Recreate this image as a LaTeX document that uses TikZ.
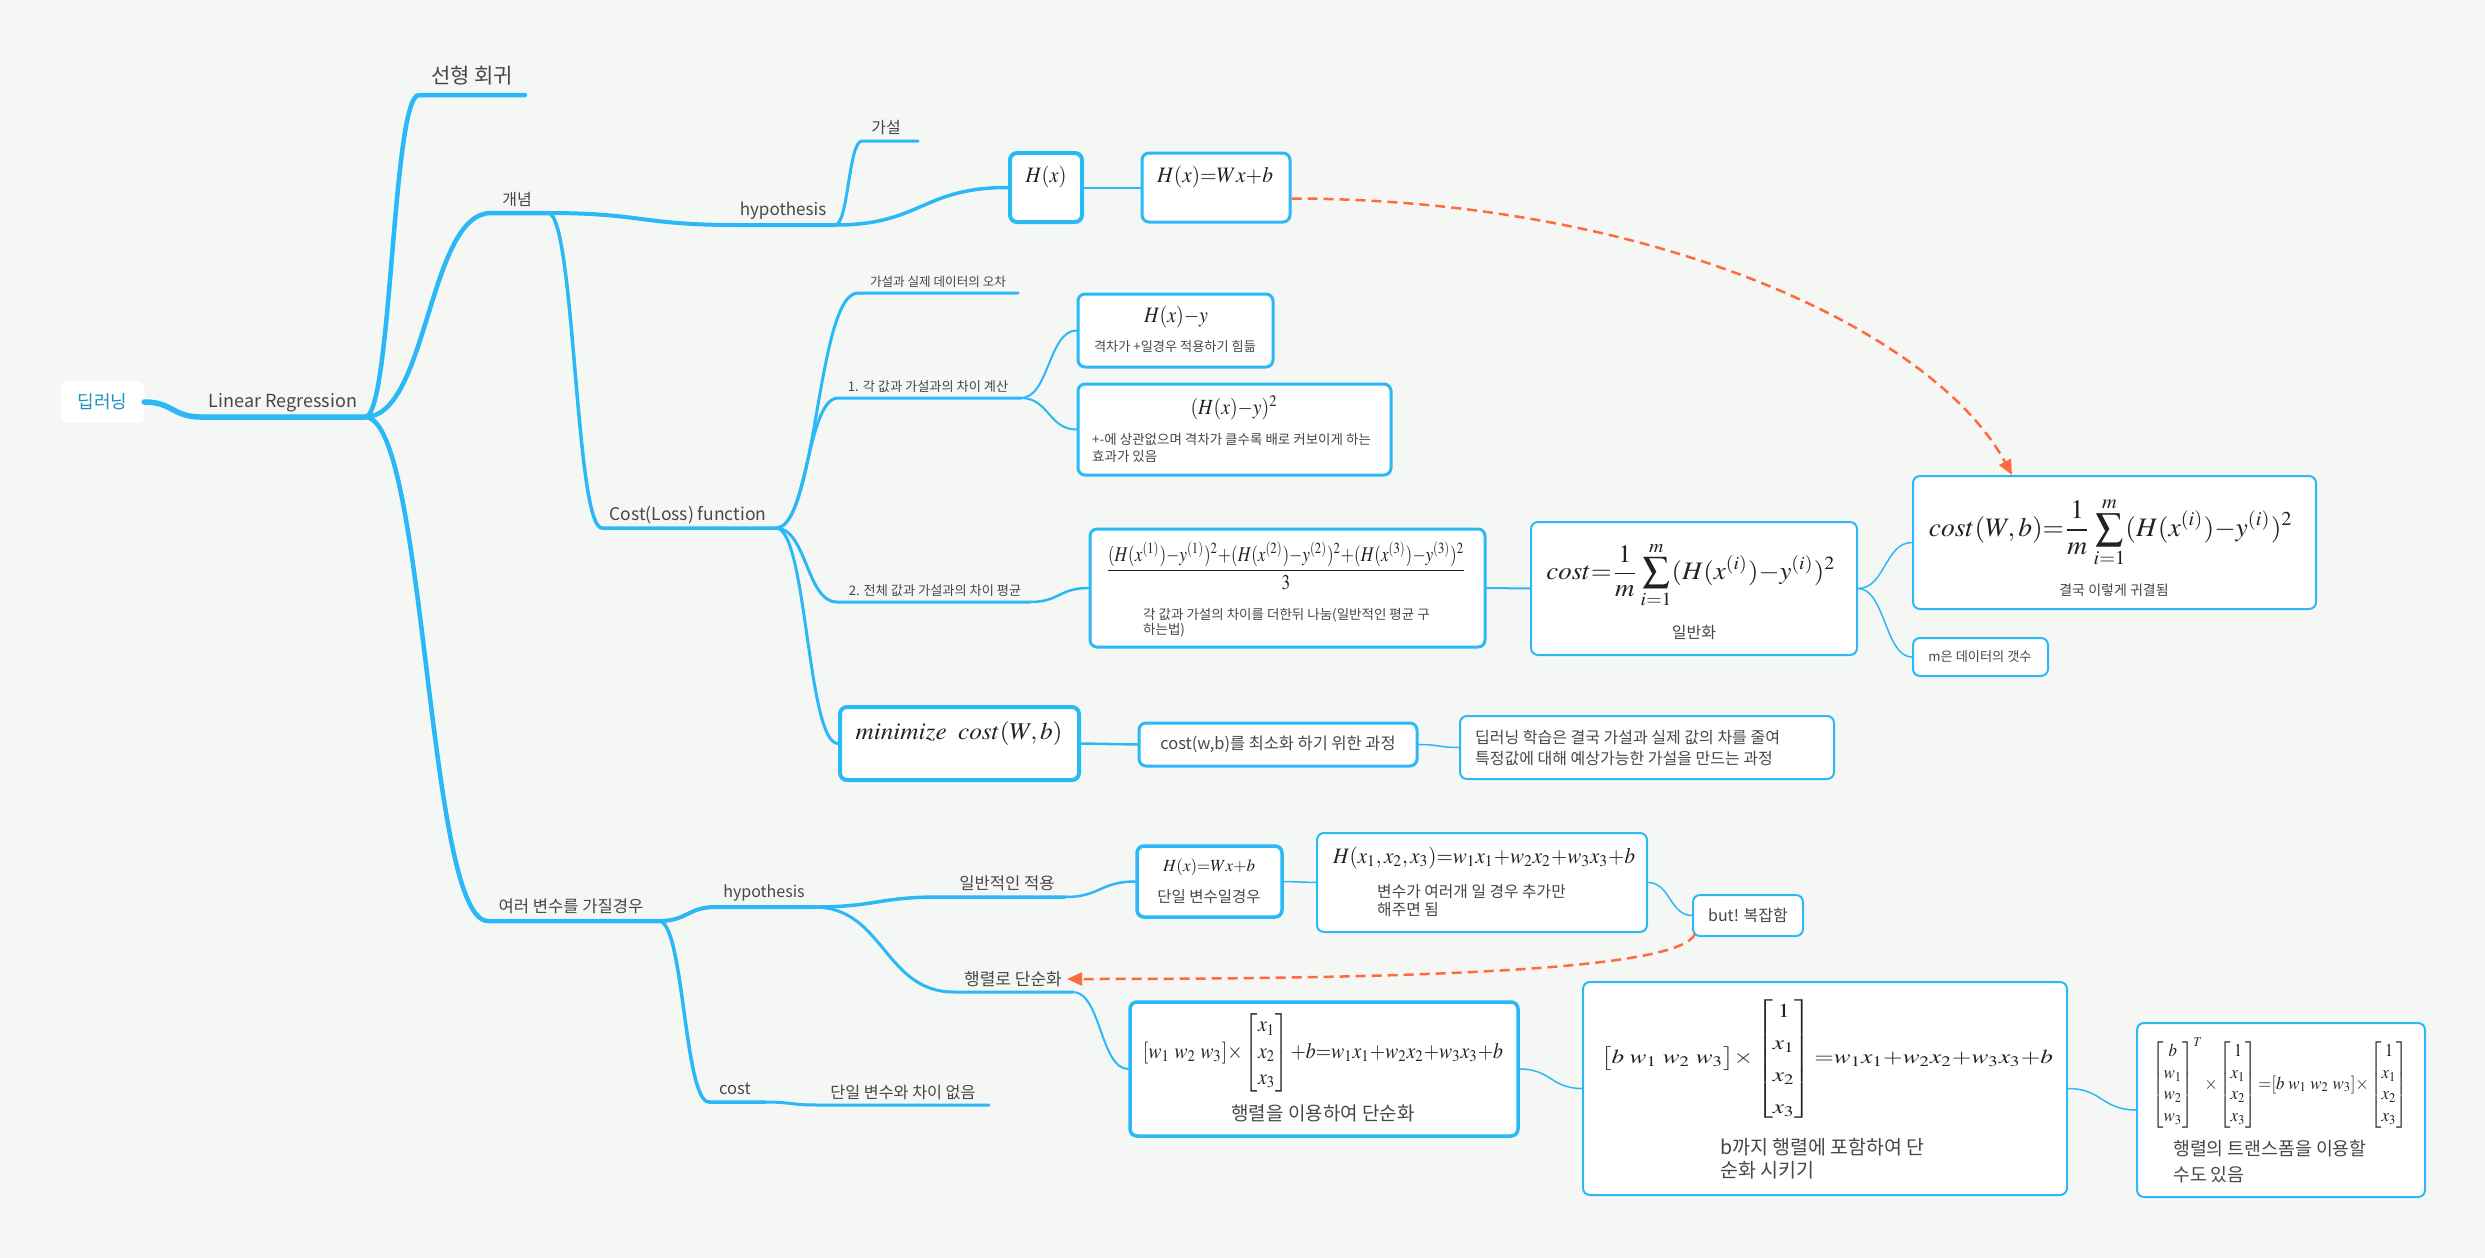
\documentclass[tikz,border=0pt]{standalone}
\usepackage{amsmath}
\usepackage{mathptmx}
\usepackage[no-math]{fontspec}
\setmainfont{Noto Sans CJK KR}
\usepackage{graphicx}
\usetikzlibrary{calc,arrows.meta}
\definecolor{bgc}{HTML}{F5F7F4}
\definecolor{lb}{HTML}{2BB8F6}
\definecolor{orn}{HTML}{FF6B3D}
\definecolor{tc}{HTML}{474747}
\definecolor{rootc}{HTML}{1E90C0}
\definecolor{mc}{HTML}{222222}
\tikzset{
  ln/.style={draw=lb, line width=#1pt, line cap=round},
  cv/.style={to path={let \p1=(\tikztostart), \p2=(\tikztotarget) in .. controls ({0.5*\x1+0.5*\x2},\y1) and ({0.5*\x1+0.5*\x2},\y2) .. (\tikztotarget) \tikztonodes}},
  lbl/.style={text=tc, inner sep=0pt, font=\fontsize{#1}{#1}\selectfont},
  cap/.style n args={2}{text=tc, inner sep=0pt, align=left, anchor=west, font=\fontsize{#1}{#2}\selectfont},
  bx/.style={draw=lb, fill=white, rounded corners=7pt, line width=#1pt, inner sep=0pt},
  mth/.style={inner sep=0pt, text=mc},
  oa/.style={draw=orn, line width=2.5pt, dash pattern=on 10pt off 6pt, -{Triangle[length=15pt,width=13pt]}},
}
\begin{document}
\begin{tikzpicture}[x=1pt,y=-1pt,line join=round]
\fill[bgc] (0,0) rectangle (2485,1258);
\useasboundingbox (0,0) rectangle (2485,1258);

% ---------- root and topic labels ----------
\node[fill=white, rounded corners=6pt, minimum width=83pt, minimum height=42pt, inner sep=0pt, text=rootc, font=\fontsize{18}{18}\selectfont] (root) at (102.5,402) {딥러닝};

\coordinate (lr-l) at (201,417); \coordinate (lr-r) at (365,417);
\node[lbl=18] (lr) at (283,403) {Linear Regression};
\coordinate (sh-l) at (419,95); \coordinate (sh-r) at (525,95);
\node[lbl=21] (sh) at (472,76) {선형 회귀};
\coordinate (gn-l) at (491,213); \coordinate (gn-r) at (548,213);
\node[lbl=16] (gn) at (517,200) {개념};
\coordinate (hy1-l) at (735,225); \coordinate (hy1-r) at (835,225);
\node[lbl=17] (hy1) at (783,211) {hypothesis};
\coordinate (gs-l) at (862,141); \coordinate (gs-r) at (918,141);
\node[lbl=16] (gs) at (886,127) {가설};
\coordinate (cl-l) at (602,528); \coordinate (cl-r) at (776,528);
\node[lbl=17.5] (cl) at (688,515) {Cost(Loss) function};
\coordinate (c0-l) at (858,293); \coordinate (c0-r) at (1018,293);
\node[lbl=12.6] (c0) at (938,282) {가설과 실제 데이터의 오차};
\coordinate (c1-l) at (838,398); \coordinate (c1-r) at (1021,398);
\node[lbl=13.2] (c1) at (928,387) {1. 각 값과 가설과의 차이 계산};
\coordinate (c2-l) at (837,602); \coordinate (c2-r) at (1030,602);
\node[lbl=13.2] (c2) at (935,591) {2. 전체 값과 가설과의 차이 평균};
\coordinate (yr-l) at (488,921); \coordinate (yr-r) at (659,921);
\node[lbl=16.6] (yr) at (571,906) {여러 변수를 가질경우};
\coordinate (hy2-l) at (716,907); \coordinate (hy2-r) at (814,907);
\node[lbl=16] (hy2) at (764,893) {hypothesis};
\coordinate (cs-l) at (709,1102); \coordinate (cs-r) at (765,1102);
\node[lbl=16.5] (cs) at (735,1089) {cost};
\coordinate (dn-l) at (817,1105); \coordinate (dn-r) at (989,1105);
\node[lbl=16.2] (dn) at (903,1092) {단일 변수와 차이 없음};
\coordinate (ib-l) at (940,897); \coordinate (ib-r) at (1065,897);
\node[lbl=16.6] (ib) at (1007,883) {일반적인 적용};
\coordinate (hr-l) at (954,992); \coordinate (hr-r) at (1073,992);
\node[lbl=17] (hr) at (1013,979) {행렬로 단순화};

% ---------- boxes ----------
\node[bx=4, minimum width=72pt, minimum height=69pt] (Hx) at (1046,187.5) {};
\node[mth] (Hx-m) at (1046,177) {\resizebox*{41pt}{22pt}{$H(x)$}};
\node[bx=3, minimum width=148pt, minimum height=69pt] (HxWxb) at (1216,187.5) {};
\node[mth] (HxWxb-m) at (1215,177) {\resizebox*{116pt}{22pt}{$H(x){=}Wx{+}b$}};

\node[bx=3, minimum width=195pt, minimum height=73pt] (Hxy) at (1175.5,330.5) {};
\node[mth] (Hxy-m) at (1176,317) {\resizebox*{64pt}{22pt}{$H(x){-}y$}};
\node[lbl=13.2] (Hxy-t) at (1175,347) {격차가 +일경우 적용하기 힘듦};

\node[bx=3, minimum width=313pt, minimum height=91pt] (Hxy2) at (1234.5,429.5) {};
\node[mth] (Hxy2-m) at (1234,408) {\resizebox*{87pt}{24pt}{$(H(x){-}y)^2$}};
\node[cap={13.5}{17}] (Hxy2-t) at (1092,447.5) {+-에 상관없으며 격차가 클수록 배로 커보이게 하는\\효과가 있음};

\node[bx=3, minimum width=395pt, minimum height=118pt] (frac) at (1287.5,588) {};
\node[mth] (frac-m) at (1286,566) {\resizebox*{360pt}{48pt}{$\dfrac{(H(x^{(1)}){-}y^{(1)})^2{+}(H(x^{(2)}){-}y^{(2)})^2{+}(H(x^{(3)}){-}y^{(3)})^2}{3}$}};
\node[cap={13.5}{15}] (frac-t) at (1143,622.5) {각 값과 가설의 차이를 더한뒤 나눔(일반적인 평균 구\\하는법)};

\node[bx=2, minimum width=326pt, minimum height=133pt] (costgen) at (1694,588.5) {};
\node[mth] (costgen-m) at (1691,575) {\resizebox*{289pt}{66pt}{$\displaystyle cost{=}\frac{1}{m}\sum_{i=1}^{m}(H(x^{(i)}){-}y^{(i)})^2$}};
\node[lbl=16] (costgen-t) at (1694,633) {일반화};

\node[bx=2, minimum width=403pt, minimum height=133pt] (final) at (2114.5,542.5) {};
\node[mth] (final-m) at (2111,532) {\resizebox*{364pt}{70pt}{$\displaystyle cost(W,b){=}\frac{1}{m}\sum_{i=1}^{m}(H(x^{(i)}){-}y^{(i)})^2$}};
\node[lbl=14] (final-t) at (2114,590) {결국 이렇게 귀결됨};

\node[bx=2, minimum width=135pt, minimum height=38pt] (mbox) at (1980.5,657) {};
\node[lbl=13.2] (mbox-t) at (1980,657) {m은 데이터의 갯수};

\node[bx=4, minimum width=239pt, minimum height=73pt] (mini) at (959.5,743.5) {};
\node[mth] (mini-m) at (959,733) {\resizebox*{207pt}{24pt}{$minimize\ \ cost(W,b)$}};

\node[bx=3, minimum width=278pt, minimum height=43pt] (costwb) at (1278,744.5) {};
\node[lbl=16.4] (costwb-t) at (1278,744) {cost(w,b)를 최소화 하기 위한 과정};

\node[bx=2, minimum width=374pt, minimum height=63pt] (dl) at (1647,747.5) {};
\node[cap={16}{21}] (dl-t) at (1475,747.5) {딥러닝 학습은 결국 가설과 실제 값의 차를 줄여\\특정값에 대해 예상가능한 가설을 만드는 과정};

\node[bx=3.5, minimum width=145pt, minimum height=71pt] (Hs) at (1209.5,881.5) {};
\node[mth] (Hs-m) at (1209,867) {\resizebox*{92pt}{17pt}{$H(x){=}Wx{+}b$}};
\node[lbl=15.5] (Hs-t) at (1209,897) {단일 변수일경우};

\node[bx=2, minimum width=330pt, minimum height=99pt] (H3) at (1482,882.5) {};
\node[mth] (H3-m) at (1484,858) {\resizebox*{302pt}{22pt}{$H(x_1,x_2,x_3){=}w_1x_1{+}w_2x_2{+}w_3x_3{+}b$}};
\node[cap={15.8}{18}] (H3-t) at (1377,901) {변수가 여러개 일 경우 추가만\\해주면 됨};

\node[bx=2, minimum width=110pt, minimum height=41pt] (but) at (1748,915.5) {};
\node[lbl=16] (but-t) at (1748,915) {but! 복잡함};

\node[bx=3.5, minimum width=388pt, minimum height=134pt] (m1) at (1324,1069) {};
\node[mth] (m1-m) at (1323,1053) {\resizebox*{360pt}{79pt}{$[w_1\;w_2\;w_3]{\times}\begin{bmatrix}x_1\\x_2\\x_3\end{bmatrix}{+}b{=}w_1x_1{+}w_2x_2{+}w_3x_3{+}b$}};
\node[lbl=19] (m1-t) at (1323,1113) {행렬을 이용하여 단순화};

\node[bx=2, minimum width=484pt, minimum height=213pt] (m2) at (1825,1088.5) {};
\node[mth] (m2-m) at (1827,1059) {\resizebox*{452pt}{128pt}{\renewcommand{\arraystretch}{1.35}$\big[b\;w_1\;w_2\;w_3\big]{\times}\begin{bmatrix}1\\x_1\\x_2\\x_3\end{bmatrix}{=}w_1x_1{+}w_2x_2{+}w_3x_3{+}b$}};
\node[cap={19.5}{23}] (m2-t) at (1720,1158.5) {b까지 행렬에 포함하여 단\\순화 시키기};

\node[bx=2, minimum width=288pt, minimum height=174pt] (tr) at (2281,1110) {};
\node[mth] (tr-m) at (2280,1083) {\resizebox*{255pt}{90pt}{$\begin{bmatrix}b\\w_1\\w_2\\w_3\end{bmatrix}^{T}{\times}\begin{bmatrix}1\\x_1\\x_2\\x_3\end{bmatrix}{=}[b\;w_1\;w_2\;w_3]{\times}\begin{bmatrix}1\\x_1\\x_2\\x_3\end{bmatrix}$}};
\node[cap={18.3}{26}] (tr-t) at (2173,1162) {행렬의 트랜스폼을 이용할\\수도 있음};

% ---------- connectors ----------
\draw[ln=5.5] (root.east) to[cv] (lr-l) -- (lr-r);
\draw[ln=4.5] (lr-r) to[cv] (sh-l) -- (sh-r);
\draw[ln=4.5] (lr-r) to[cv] (gn-l) -- (gn-r);
\draw[ln=4.5] (lr-r) to[cv] (yr-l) -- (yr-r);

\draw[ln=4] (gn-r) to[cv] (hy1-l) -- (hy1-r);
\draw[ln=3.5] (gn-r) to[cv] (cl-l) -- (cl-r);
\draw[ln=3] (hy1-r) to[cv] (gs-l) -- (gs-r);
\draw[ln=3.5] (hy1-r) to[cv] (Hx.west);
\draw[ln=2] (Hx.east) -- (HxWxb.west);

\draw[ln=3] (cl-r) to[cv] (c0-l) -- (c0-r);
\draw[ln=3] (cl-r) to[cv] (c1-l) -- (c1-r);
\draw[ln=3] (cl-r) to[cv] (c2-l) -- (c2-r);
\draw[ln=3] (cl-r) to[cv] (mini.west);
\draw[ln=2] (c1-r) to[cv] (Hxy.west);
\draw[ln=2] (c1-r) to[cv] (Hxy2.west);
\draw[ln=2.5] (c2-r) to[cv] (frac.west);
\draw[ln=2] (frac.east) -- (costgen.west);
\draw[ln=1.5] (costgen.east) to[cv] (final.west);
\draw[ln=1.5] (costgen.east) to[cv] (mbox.west);
\draw[ln=2.5] (mini.east) -- (costwb.west);
\draw[ln=1.5] (costwb.east) to[cv] (dl.west);

\draw[ln=4] (yr-r) to[cv] (hy2-l) -- (hy2-r);
\draw[ln=3.5] (yr-r) to[cv] (cs-l) -- (cs-r);
\draw[ln=3] (cs-r) to[cv] (dn-l) -- (dn-r);
\draw[ln=3.5] (hy2-r) to[cv] (ib-l) -- (ib-r);
\draw[ln=3] (hy2-r) to[cv] (hr-l) -- (hr-r);
\draw[ln=2.5] (ib-r) to[cv] (Hs.west);
\draw[ln=1.5] (Hs.east) to[cv] (H3.west);
\draw[ln=1.5] (H3.east) to[cv] (but.west);
\draw[ln=2] (hr-r) to[cv] (m1.west);
\draw[ln=1.5] (m1.east) to[cv] (m2.west);
\draw[ln=1.5] (m2.east) to[cv] (tr.west);

% ---------- orange dashed relations ----------
\draw[oa] ($(HxWxb.east)+(0,11)$) .. controls (1650,199) and (1933,329) .. ($(final.north west)+(100,0)$);
\draw[oa] ($(but.south west)+(3,-3)$) .. controls (1680,968) and (1450,979) .. ($(hr.east)+(5,0)$);
\end{tikzpicture}
\end{document}
